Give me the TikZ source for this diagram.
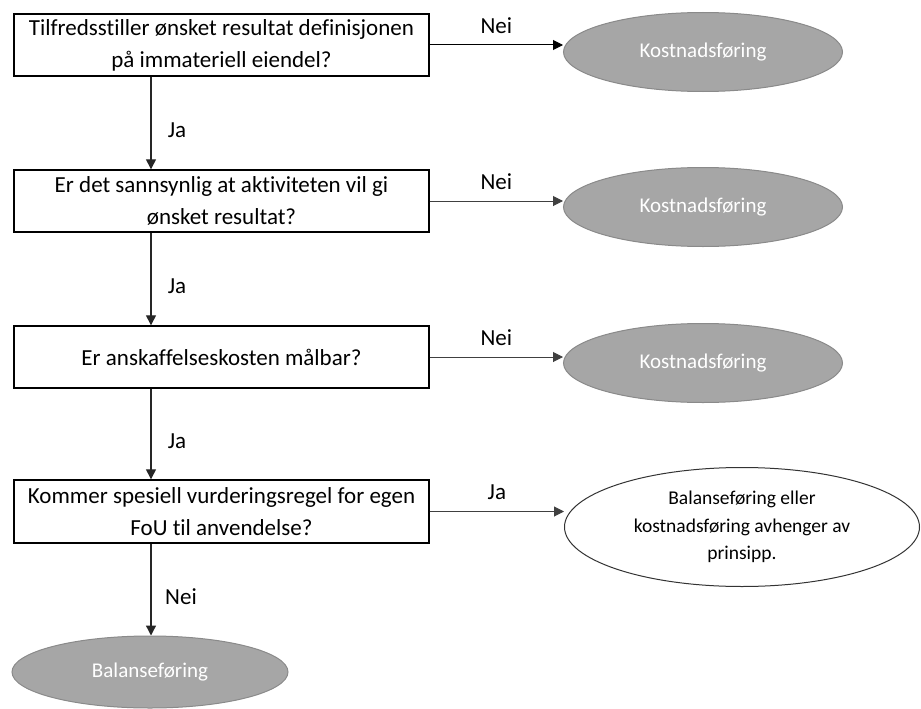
\documentclass[tikz,border=0pt]{standalone}
\usepackage{fontspec}
\setmainfont{Carlito}[Ligatures=CommonOff]
\usetikzlibrary{shapes.geometric,arrows.meta}
\definecolor{fillgrey}{HTML}{A6A6A6}
\definecolor{edgegrey}{HTML}{8A8A8A}
\begin{document}
\begin{tikzpicture}[x=1pt,y=-1pt,
  question/.style={draw=black, line width=1.4pt, minimum width=415pt,
    minimum height=62pt, align=center, inner sep=0pt,
    font=\fontsize{23}{32}\selectfont},
  outcome/.style={ellipse, fill=fillgrey, draw=edgegrey, line width=1pt,
    minimum width=279pt, minimum height=79pt, inner sep=0pt, text=white,
    font=\fontsize{21}{25}\selectfont},
  choice/.style={ellipse, draw=black!80, line width=1pt, minimum width=355pt,
    minimum height=119pt, inner sep=0pt, align=center,
    font=\fontsize{19.5}{27.5}\selectfont},
  flow/.style={line width=1.3pt, draw=black!85,
    -{Triangle[length=10pt,width=10pt]}},
  side/.style={line width=1pt, draw=black!75,
    -{Triangle[length=10pt,width=10pt]}},
  lbl/.style={font=\fontsize{23}{26}\selectfont, inner sep=0pt, text=black}
]
\path[use as bounding box] (0,0) rectangle (921,709);

% questions
\node[question] (q1) at (221.5,45)
  {Tilfredsstiller ønsket resultat definisjonen\\på immateriell eiendel?};
\node[question] (q2) at (221.5,201)
  {Er det sannsynlig at aktiviteten vil gi\\ønsket resultat?};
\node[question] (q3) at (221.5,357) {Er anskaffelseskosten målbar?};
\node[question, minimum height=63pt] (q4) at (221.5,511.5)
  {Kommer spesiell vurderingsregel for egen\\FoU til anvendelse?};

% outcomes
\node[outcome] (o1) at (703,52) {Kostnadsføring};
\node[outcome] (o2) at (703,207) {Kostnadsføring};
\node[outcome] (o3) at (703,363) {Kostnadsføring};
\node[choice] (o4) at (742,527)
  {Balanseføring eller\\kostnadsføring avhenger av\\prinsipp.};
\node[outcome, minimum width=276pt, minimum height=72pt] (o5) at (150,672)
  {Balanseføring};

% main column of yes-answers
\coordinate (spine) at (151,0);
\draw[flow] (q1.south -| spine) -- (q2.north -| spine)
  node[lbl, midway, xshift=26pt, yshift=-7pt] {Ja};
\draw[flow] (q2.south -| spine) -- (q3.north -| spine)
  node[lbl, midway, xshift=26pt, yshift=-7pt] {Ja};
\draw[flow] (q3.south -| spine) -- (q4.north -| spine)
  node[lbl, midway, xshift=26pt, yshift=-7pt] {Ja};
\draw[flow] (q4.south -| spine) -- (o5.north -| spine)
  node[lbl, midway, xshift=30pt, yshift=-7pt] {Nei};

% side branches
\draw[side, draw=black] (q1.east) -- (q1.east -| o1.west)
  node[lbl, midway, yshift=19pt] {Nei};
\draw[side] (q2.east) -- (q2.east -| o2.west)
  node[lbl, midway, yshift=19pt] {Nei};
\draw[side] (q3.east) -- (q3.east -| o3.west)
  node[lbl, midway, yshift=19pt] {Nei};
\draw[side] (q4.east) -- (q4.east -| o4.west)
  node[lbl, midway, yshift=19pt] {Ja};
\end{tikzpicture}
\end{document}
